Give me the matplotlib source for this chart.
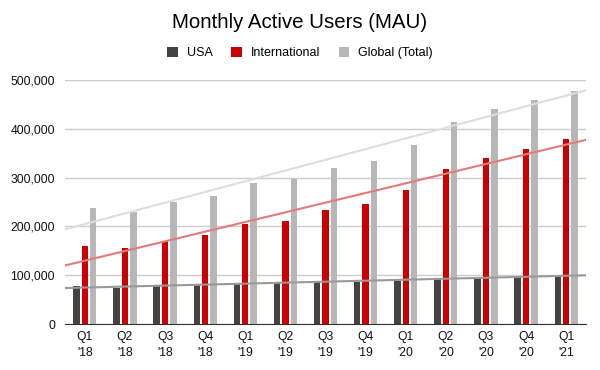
import numpy as np
import matplotlib
matplotlib.use("Agg")
import matplotlib.pyplot as plt

quarters = ["Q1\n'18", "Q2\n'18", "Q3\n'18", "Q4\n'18", "Q1\n'19", "Q2\n'19", "Q3\n'19",
            "Q4\n'19", "Q1\n'20", "Q2\n'20", "Q3\n'20", "Q4\n'20", "Q1\n'21"]
usa = [78000, 74000, 78000, 80000, 85000, 85000, 87000, 87000, 89000, 95000, 97000, 97000, 98000]
intl = [159000, 155000, 170000, 182000, 205000, 212000, 233000, 246000, 274000, 318000, 341000, 359000, 379000]
glob = [237000, 229000, 250000, 262000, 289000, 298000, 320000, 333000, 366000, 414000, 440000, 458000, 477000]

plt.rcParams['font.family'] = ['Liberation Sans', 'DejaVu Sans']

fig = plt.figure(figsize=(6, 3.7), dpi=100)
ax = fig.add_axes([0.108, 0.124, 0.869, 0.66])

x = np.arange(len(quarters))
w = 0.16
off = 0.21
series = [(usa, '#434343', '#999999', 'USA', -off),
          (intl, '#cc0000', '#e57a7a', 'International', 0),
          (glob, '#b7b7b7', '#dedede', 'Global (Total)', off)]

xs = np.array([-0.5, len(quarters) - 0.5])
for vals, col, tcol, lab, o in series:
    ax.bar(x + o, vals, width=w, color=col, label=lab, zorder=3)
for vals, col, tcol, lab, o in series:
    a, b = np.polyfit(x, vals, 1)
    ax.plot(xs, a * xs + b, color=tcol, lw=1.5, zorder=4)

ax.set_xlim(-0.5, len(quarters) - 0.5)
ax.set_ylim(0, 500000)
ax.set_yticks(range(0, 500001, 100000))
ax.set_yticklabels([f"{v:,}" for v in range(0, 500001, 100000)])
ax.set_xticks(x)
ax.set_xticklabels(quarters, linespacing=1.4)
ax.tick_params(length=0, labelsize=8.7, colors='#111111')
ax.tick_params(axis='y', pad=7)
ax.tick_params(axis='x', pad=5)
ax.grid(axis='y', color='#cccccc', lw=1, zorder=0)
for s in ['top', 'right', 'left']:
    ax.spines[s].set_visible(False)
ax.spines['bottom'].set_color('#333333')
ax.spines['bottom'].set_zorder(5)

fig.text(0.5, 0.94, "Monthly Active Users (MAU)", ha='center', va='center', fontsize=14.7)
fig.legend(loc='center', bbox_to_anchor=(0.5, 0.857), ncol=3, frameon=False, fontsize=9,
           handlelength=0.85, handleheight=0.85, handletextpad=0.7, columnspacing=1.5)

fig.savefig("out.png")
